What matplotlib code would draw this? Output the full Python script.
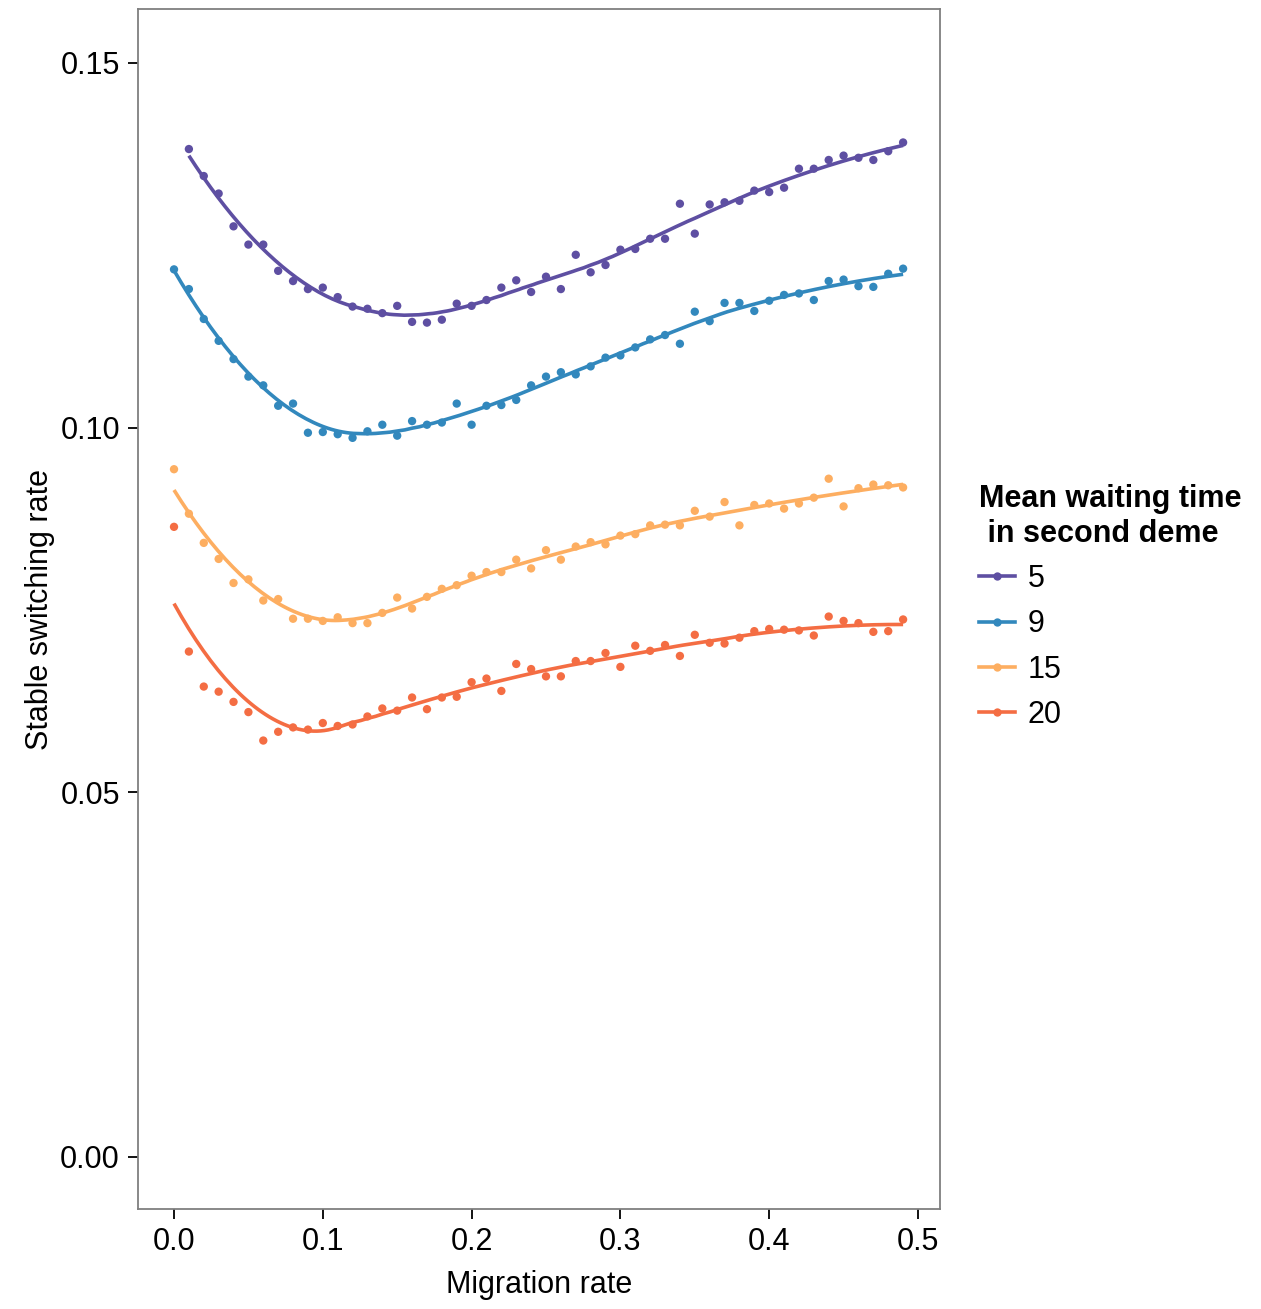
import numpy as np
import matplotlib

matplotlib.use("Agg")
import matplotlib.pyplot as plt
from matplotlib.lines import Line2D

plt.rcParams["font.family"] = ["Liberation Sans", "DejaVu Sans"]

# ---- data ------------------------------------------------------------------------
migration = [round(0.01 * i, 2) for i in range(50)]

rate_5 = [None,
          0.1382, 0.1345, 0.1321, 0.1276, 0.1251, 0.1251, 0.1215, 0.1201, 0.1190, 0.1192,
          0.1179, 0.1166, 0.1163, 0.1157, 0.1167, 0.1145, 0.1144, 0.1148, 0.1170, 0.1167,
          0.1175, 0.1192, 0.1202, 0.1186, 0.1207, 0.1190, 0.1237, 0.1213, 0.1223, 0.1244,
          0.1245, 0.1259, 0.1259, 0.1307, 0.1266, 0.1306, 0.1309, 0.1311, 0.1325, 0.1323,
          0.1329, 0.1355, 0.1355, 0.1367, 0.1373, 0.1370, 0.1367, 0.1379, 0.1391]
rate_9 = [0.1217,
          0.1190, 0.1149, 0.1119, 0.1094, 0.1070, 0.1058, 0.1030, 0.1033, 0.0993, 0.0994,
          0.0991, 0.0986, 0.0995, 0.1004, 0.0989, 0.1009, 0.1004, 0.1007, 0.1033, 0.1004,
          0.1030, 0.1031, 0.1038, 0.1058, 0.1070, 0.1076, 0.1073, 0.1084, 0.1096, 0.1099,
          0.1110, 0.1121, 0.1127, 0.1115, 0.1159, 0.1146, 0.1171, 0.1171, 0.1160, 0.1174,
          0.1182, 0.1184, 0.1175, 0.1201, 0.1203, 0.1194, 0.1193, 0.1211, 0.1218]
rate_15 = [0.0943,
           0.0882, 0.0842, 0.0820, 0.0787, 0.0792, 0.0763, 0.0765, 0.0738, 0.0738, 0.0735,
           0.0740, 0.0732, 0.0732, 0.0746, 0.0767, 0.0752, 0.0768, 0.0779, 0.0784, 0.0797,
           0.0802, 0.0802, 0.0819, 0.0807, 0.0832, 0.0819, 0.0837, 0.0843, 0.0840, 0.0852,
           0.0854, 0.0866, 0.0867, 0.0866, 0.0886, 0.0878, 0.0898, 0.0866, 0.0894, 0.0896,
           0.0889, 0.0896, 0.0904, 0.0930, 0.0892, 0.0917, 0.0922, 0.0921, 0.0918]
rate_20 = [0.0864,
           0.0693, 0.0645, 0.0638, 0.0624, 0.0610, 0.0571, 0.0583, 0.0589, 0.0586, 0.0595,
           0.0591, 0.0593, 0.0604, 0.0615, 0.0612, 0.0630, 0.0614, 0.0630, 0.0631, 0.0651,
           0.0656, 0.0639, 0.0676, 0.0669, 0.0659, 0.0659, 0.0680, 0.0680, 0.0691, 0.0672,
           0.0701, 0.0694, 0.0702, 0.0687, 0.0716, 0.0705, 0.0704, 0.0712, 0.0721, 0.0724,
           0.0723, 0.0722, 0.0715, 0.0741, 0.0735, 0.0732, 0.0720, 0.0721, 0.0737]

groups = ["5", "9", "15", "20"]
series = [rate_5, rate_9, rate_15, rate_20]
colors = ["#5E4FA2", "#3288BD", "#FDAE61", "#F46D43"]


def loess(x, y, xs, span=0.5):
    """Local quadratic regression with tricube weights."""
    n = len(x)
    q = int(np.floor(span * n))
    out = np.empty(len(xs))
    for i, x0 in enumerate(xs):
        d = np.abs(x - x0)
        h = np.sort(d)[q - 1]
        w = np.clip(1 - (d / h) ** 3, 0, None) ** 3
        X = np.column_stack([np.ones(n), x - x0, (x - x0) ** 2])
        W = np.sqrt(w)
        beta = np.linalg.lstsq(X * W[:, None], y * W, rcond=None)[0]
        out[i] = beta[0]
    return out


fig = plt.figure(figsize=(12.61, 13.09), dpi=100)
ax = fig.add_axes([138 / 1261, 100 / 1309, 802 / 1261, 1200 / 1309])

handles = []
for name, vals, col in zip(groups, series, colors):
    x = np.array([m for m, v in zip(migration, vals) if v is not None])
    y = np.array([v for v in vals if v is not None])
    xs = np.linspace(x.min(), x.max(), 200)
    ax.plot(xs, loess(x, y, xs), color=col, lw=2.6, solid_capstyle="butt", zorder=2)
    ax.scatter(x, y, s=36, color=col, edgecolors="none", zorder=3)
    handles.append(Line2D([], [], color=col, lw=2.6, marker="o", markersize=6,
                          markeredgewidth=0, label=name))

ax.set_xlim(-0.0242, 0.5148)
ax.set_ylim(-0.00713, 0.1574)
ax.set_xticks([0.0, 0.1, 0.2, 0.3, 0.4, 0.5])
ax.set_xticklabels(["0.0", "0.1", "0.2", "0.3", "0.4", "0.5"])
ax.set_yticks([0.0, 0.05, 0.10, 0.15])
ax.set_yticklabels(["0.00", "0.05", "0.10", "0.15"])
ax.tick_params(direction="out", length=7, width=1.3, color="black",
               labelsize=22, pad=6)
for sp in ax.spines.values():
    sp.set_color("#7f7f7f")
    sp.set_linewidth(1.3)

ax.set_xlabel("Migration rate", fontsize=22, labelpad=9)
ax.set_ylabel("Stable switching rate", fontsize=22, labelpad=4)

leg = ax.legend(handles=handles, title="Mean waiting time\n in second deme",
                loc="upper left", bbox_to_anchor=(1.014, 0.627), frameon=False,
                fontsize=22, title_fontproperties={"weight": "bold", "size": 22},
                alignment="left", handlelength=1.2, handletextpad=0.4,
                labelspacing=0.5)

fig.savefig("out.png", dpi=100)
